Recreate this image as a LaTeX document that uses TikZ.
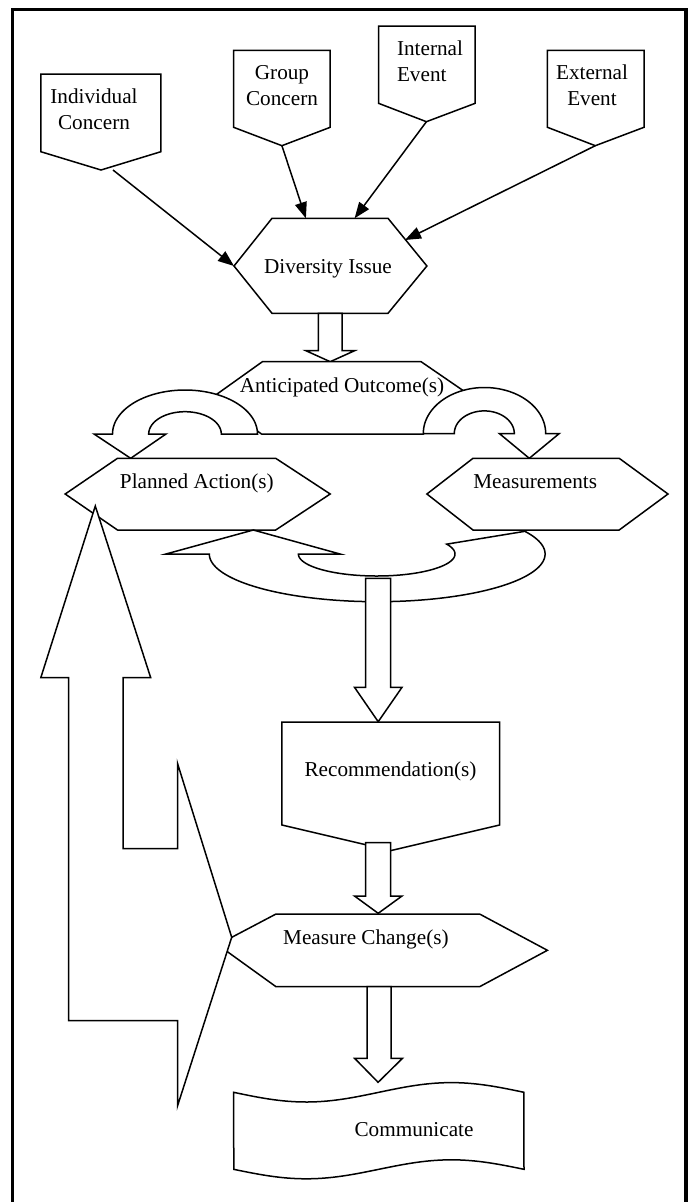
\documentclass[tikz,border=0pt]{standalone}
\usepackage{fontspec}
\setmainfont{Liberation Serif}
\usetikzlibrary{arrows.meta}
\begin{document}
\begin{tikzpicture}[x=1pt,y=-1pt,
  box/.style={draw=black, fill=white, line width=1.5pt, line join=miter},
  lbl/.style={inner sep=0pt, anchor=base, font=\fontsize{21.2}{26}\selectfont},
  conn/.style={line width=1.5pt, -{Triangle[length=16pt,width=12pt]}},
  frame/.style={line width=3.5pt}
]
\useasboundingbox (0,0) rectangle (691,1202);
% outer frame
\draw[frame] (12.4,1210) -- (12.4,9.3) -- (686.2,9.3) -- (686.2,1210);

% source pentagons
\draw[box] (40.8,74) -- (160.9,74) -- (160.9,151.7) -- (101,170) -- (40.8,151.7) -- cycle;
\draw[box] (233.6,50.3) -- (330.2,50.3) -- (330.2,127.3) -- (281.9,145.7) -- (233.6,127.3) -- cycle;
\draw[box] (378.5,26) -- (475.2,26) -- (475.2,103.3) -- (426.4,121.7) -- (378.5,103.3) -- cycle;
\draw[box] (547.4,50.3) -- (644,50.3) -- (644,127.3) -- (595.3,145.7) -- (547.4,127.3) -- cycle;
\node[lbl, align=center] (ic) at (94,129.7) {Individual\\Concern};
\node[lbl, align=center] (gc) at (282,105.7) {Group\\Concern};
\node[lbl, align=left] (ie) at (430,81) {Internal\\Event};
\node[lbl, align=center] (ee) at (592,105.7) {External\\Event};

% Diversity issue
\draw[box] (272,218.3) -- (388,218.3) -- (426.9,266) -- (388,313.3) -- (272,313.3) -- (234,266) -- cycle;
\node[lbl] (di) at (328,273) {Diversity Issue};

\coordinate (ic-o) at (113,170);
\coordinate (gc-o) at (281.9,145.7);
\coordinate (ie-o) at (426.4,121.7);
\coordinate (ee-o) at (595.3,145.7);
\coordinate (di-w) at (234,266);
\coordinate (di-n1) at (305.9,218.3);
\coordinate (di-n2) at (354.6,218.3);
\coordinate (di-ne) at (405,240);
\draw[conn] (ic-o) -- (di-w);
\draw[conn] (gc-o) -- (di-n1);
\draw[conn] (ie-o) -- (di-n2);
\draw[conn] (ee-o) -- (di-ne);

% block arrow to anticipated
\draw[box] (318.3,313.3) -- (318.3,350.7) -- (305.9,350.7) -- (330.2,361.7) -- (354.6,350.7) -- (342.2,350.7) -- (342.2,313.3) -- cycle;

% Anticipated outcome
\draw[box] (262.4,361.7) -- (421.1,361.7) -- (474,398) -- (423.3,434) -- (261.5,434) -- (211.5,398) -- cycle;
\node[lbl] (ao) at (342,392) {Anticipated Outcome(s)};

% curved arrows
\draw[box] (257.5,434) -- plot[domain=0:-180,samples=60] ({185+72.5*cos(\x)},{434+44*sin(\x)})
  -- (94,434) -- (130.7,458.3) -- (166,434)
  -- plot[domain=-180:0,samples=60] ({185+36.3*cos(\x)},{434+22.3*sin(\x)}) -- cycle;
\draw[box] (423.3,433.5) -- plot[domain=-180:0,samples=60] ({484.5+61.2*cos(\x)},{433.5+46*sin(\x)})
  -- (559.3,433.5) -- (529.3,458.3) -- (499.3,433.5)
  -- plot[domain=0:-180,samples=60] ({484.3+30*cos(\x)},{433.5+22.6*sin(\x)}) -- cycle;

% Planned action and measurements
\draw[box] (117.5,458.3) -- (275.7,458.3) -- (330.2,494) -- (275.7,530) -- (117.5,530) -- (65.2,494) -- cycle;
\node[lbl] (pa) at (196.8,488.5) {Planned Action(s)};
\draw[box] (473,458.3) -- (619.2,458.3) -- (668,494) -- (619.2,530) -- (473,530) -- (426.9,494) -- cycle;
\node[lbl] (me) at (535.2,488.5) {Measurements};

% U-turn arrow from measurements to planned action
\draw[box] (166,554) -- (253.3,530) -- (340,554) -- (298.4,554)
  -- plot[domain=180:-26.6,samples=80] ({376.7+78.3*cos(\x)},{554+22*sin(\x)})
  -- plot[domain=-28.4:180,samples=100] ({377.2+167.9*cos(\x)},{554+47.7*sin(\x)}) -- cycle;

% block arrow to recommendation
\draw[box] (365.5,578.3) -- (365.5,687.3) -- (354.5,687.3) -- (378.2,721.7) -- (402,687.3) -- (390.5,687.3) -- (390.5,578.3) -- cycle;

% Recommendation
\draw[box] (281.9,722) -- (499.6,722) -- (499.6,825) -- (390.75,850.6) -- (281.9,825) -- cycle;
\node[lbl] (re) at (390.5,776) {Recommendation(s)};

\draw[box] (365.5,842.7) -- (365.5,896) -- (354.5,896) -- (378.2,913.3) -- (402,896) -- (390.5,896) -- (390.5,842.7) -- cycle;

% Measure change
\draw[box] (276,914) -- (479.6,914) -- (547.4,950.3) -- (479.6,986.7) -- (276,986.7) -- (217.7,944.7) -- cycle;
\node[lbl] (mc) at (365.9,944) {Measure Change(s)};

% big feedback arrow
\draw[box] (95.3,506) -- (150.7,677.7) -- (123.2,677.7) -- (123.2,848.5) -- (177.5,848.5) -- (177.5,763.3)
  -- (231.7,937.3) -- (177.5,1106) -- (177.5,1020.7) -- (68.7,1020.7) -- (68.7,677.7) -- (40.8,677.7) -- cycle;

% block arrow to communicate
\draw[box] (367,986.7) -- (367,1058.3) -- (354.6,1058.3) -- (378.1,1082.3) -- (402.5,1058.3) -- (391,1058.3) -- (391,986.7) -- cycle;

% Communicate
\draw[box] plot[domain=0:1,samples=60] ({233.6+290.4*\x},{1092.3+9.7*sin(360*\x)})
  -- plot[domain=1:0,samples=60] ({233.6+290.4*\x},{1169.3+9.5*sin(360*\x)}) -- cycle;
\node[lbl] (co) at (414,1136) {Communicate};
\end{tikzpicture}
\end{document}
